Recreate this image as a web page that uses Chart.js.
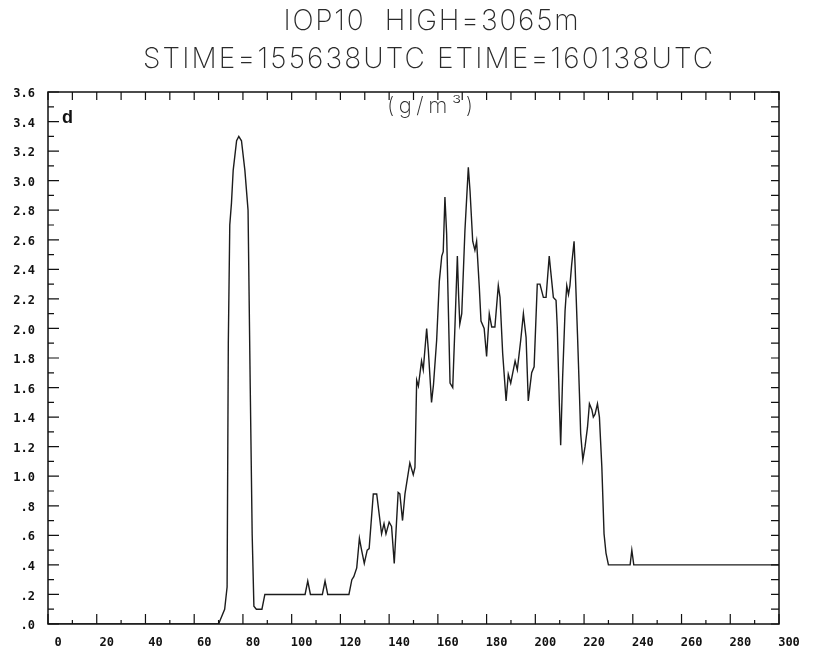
<!DOCTYPE html>
<html>
<head>
<meta charset="utf-8">
<script src="https://cdn.jsdelivr.net/npm/chart.js@4.4.1/dist/chart.umd.min.js"></script>
<style>
  html, body { margin: 0; padding: 0; background: #fff; }
</style>
</head>
<body>
<canvas id="lwcChart" width="817" height="655"></canvas>
<script>
// Header and panel text
const titleLines = ["IOP10  HIGH=3065m", "STIME=155638UTC ETIME=160138UTC"];
const unitLabel = "(g/m³)";
const panelLabel = "d";

// Liquid water content along the flight leg
const distance = [
    0, 70, 72.5, 73.5, 74, 74.6, 75.3, 76, 77.4, 78.3, 79.4, 80.8, 82.1, 83, 83.8, 84.5, 85.5, 87.8, 89,
    105.5, 106.6, 107.7, 112.6, 113.7, 114.8, 123.5, 124.7, 125.5, 126.7, 127.8, 128.7, 129.8, 131, 131.8,
    133.5, 134.9, 136.9, 137.9, 138.7, 140, 141, 142.1, 143.7, 144.4, 145.5, 146.5, 148.5, 149.9, 150.6,
    151.3, 152, 153.3, 154, 155.4, 156.1, 157.4, 158.2, 159.5, 160.6, 161.6, 162.2, 162.9, 163.6, 165,
    166.1, 167, 168, 168.5, 169, 169.8, 171.1, 172.5, 173.2, 174.3, 175.2, 175.9, 177, 177.7, 179, 180,
    181.1, 182.1, 183.4, 184.8, 185.5, 186.6, 188, 188.9, 189.9, 191.7, 192.6, 194, 195.1, 196.2, 197.1,
    198.5, 199.5, 200.8, 201.9, 203.3, 204.4, 205.7, 206.3, 207.4, 208.5, 209, 209.9, 210.4, 211.2, 212.2,
    212.9, 213.6, 214.2, 214.9, 215.9, 216.3, 217.3, 218.1, 218.6, 219.5, 220.4, 221.4, 222.2, 223.2,
    223.8, 224.5, 225.5, 226.3, 227.3, 228.2, 229, 230, 238.9, 239.6, 240.4, 300
];
const lwc = [
    0, 0, 0.1, 0.25, 1.9, 2.7, 2.85, 3.07, 3.27, 3.30, 3.27, 3.07, 2.80, 1.6, 0.6, 0.12, 0.1, 0.1, 0.2,
    0.2, 0.29, 0.2, 0.2, 0.29, 0.2, 0.2, 0.30, 0.32, 0.38, 0.58, 0.5, 0.41, 0.5, 0.51,
    0.88, 0.88, 0.61, 0.68, 0.61, 0.69, 0.66, 0.41, 0.89, 0.88, 0.70, 0.88, 1.09, 1.01, 1.06,
    1.65, 1.61, 1.78, 1.72, 2.0, 1.85, 1.50, 1.62, 1.92, 2.32, 2.49, 2.52, 2.89, 2.64, 1.63,
    1.60, 2.01, 2.49, 2.23, 2.03, 2.10, 2.66, 3.09, 2.93, 2.59, 2.53, 2.59, 2.28, 2.05, 2.0, 1.81,
    2.10, 2.01, 2.01, 2.29, 2.21, 1.83, 1.51, 1.69, 1.63, 1.78, 1.72, 1.92, 2.10, 1.94, 1.51,
    1.70, 1.74, 2.30, 2.30, 2.21, 2.21, 2.49, 2.39, 2.21, 2.19, 2.01, 1.47, 1.21, 1.67, 2.12,
    2.29, 2.23, 2.29, 2.43, 2.59, 2.43, 1.96, 1.56, 1.29, 1.11, 1.20, 1.33, 1.49, 1.45,
    1.40, 1.42, 1.49, 1.40, 1.06, 0.61, 0.48, 0.40, 0.40, 0.50, 0.40, 0.40
];

// Axis ticks
const xTickValues = [0, 20, 40, 60, 80, 100, 120, 140, 160, 180, 200, 220, 240, 260, 280, 300];
const yTickValues = [0, 0.2, 0.4, 0.6, 0.8, 1.0, 1.2, 1.4, 1.6, 1.8, 2.0, 2.2, 2.4, 2.6, 2.8, 3.0, 3.2, 3.4, 3.6];
const yTickLabels = [".0", ".2", ".4", ".6", ".8", "1.0", "1.2", "1.4", "1.6", "1.8", "2.0", "2.2", "2.4", "2.6", "2.8", "3.0", "3.2", "3.4", "3.6"];
const xMinorStep = 10;
const yMinorStep = 0.1;

const tickFont = { family: "'DejaVu Sans Mono', monospace", weight: 'bold', size: 12 };
const headFont = "200 28px Inter, 'DejaVu Sans', sans-serif";

// draw text stretched to a given width (old plotter lettering is widely spaced)
function spacedText(ctx, text, cx, cy, width) {
    ctx.letterSpacing = '0px';
    const w = ctx.measureText(text).width;
    const gap = (width - w) / (text.length - 1);
    ctx.letterSpacing = gap + 'px';
    ctx.fillText(text, cx - width / 2, cy);
    ctx.letterSpacing = '0px';
}

// frame with inward ticks on all four sides, plus header text
const framePlugin = {
    id: 'frame',
    afterDraw(chart) {
        const { ctx, chartArea: a, scales: { x, y } } = chart;
        ctx.save();
        ctx.strokeStyle = '#111';
        ctx.lineWidth = 1.5;
        ctx.strokeRect(a.left, a.top, a.right - a.left, a.bottom - a.top);

        ctx.lineWidth = 1.2;
        ctx.beginPath();
        for (let v = x.min; v <= x.max; v += xMinorStep) {
            const px = x.getPixelForValue(v);
            const major = v % 20 === 0;
            ctx.moveTo(px, a.bottom);
            ctx.lineTo(px, a.bottom - (major ? 10 : 4));
            ctx.moveTo(px, a.top);
            ctx.lineTo(px, a.top + 8);
        }
        const nY = Math.round((y.max - y.min) / yMinorStep);
        for (let i = 0; i <= nY; i++) {
            const py = y.getPixelForValue(i * yMinorStep);
            ctx.moveTo(a.left, py);
            ctx.lineTo(a.left + (i % 2 === 0 ? 11 : 6), py);
            ctx.moveTo(a.right, py);
            ctx.lineTo(a.right - 8, py);
        }
        ctx.stroke();

        ctx.fillStyle = '#2a2a2a';
        ctx.font = headFont;
        ctx.textBaseline = 'middle';
        ctx.textAlign = 'left';
        spacedText(ctx, titleLines[0], 431, 22, 295);
        spacedText(ctx, titleLines[1], 428, 60, 570);

        ctx.font = "200 22px Inter, 'DejaVu Sans', sans-serif";
        spacedText(ctx, unitLabel, 430, 106, 86);

        ctx.fillStyle = '#111';
        ctx.font = "bold 18px 'Liberation Sans', Arial, sans-serif";
        ctx.fillText(panelLabel, 62, 118);
        ctx.restore();
    }
};

const ctx = document.getElementById('lwcChart').getContext('2d');
const lwcChart = new Chart(ctx, {
    type: 'line',
    data: {
        datasets: [{
            data: distance.map((d, i) => ({ x: d, y: lwc[i] })),
            borderColor: '#1c1c1c',
            borderWidth: 1.4,
            pointRadius: 0,
            tension: 0,
            fill: false
        }]
    },
    options: {
        responsive: false,
        animation: false,
        layout: { padding: { top: 92, right: 38, left: 0, bottom: 0 } },
        plugins: {
            legend: { display: false },
            tooltip: { enabled: false }
        },
        scales: {
            x: {
                type: 'linear',
                min: 0,
                max: 300,
                grid: { display: false, drawTicks: false },
                border: { display: false },
                afterBuildTicks: scale => { scale.ticks = xTickValues.map(v => ({ value: v })); },
                afterFit: scale => { scale.height = 31; },
                ticks: {
                    font: tickFont,
                    color: '#111',
                    padding: 12,
                    labelOffset: 10,
                    maxRotation: 0,
                    autoSkip: false,
                    callback: v => String(v)
                }
            },
            y: {
                type: 'linear',
                min: 0,
                max: 3.6,
                grid: { display: false, drawTicks: false },
                border: { display: false },
                afterBuildTicks: scale => { scale.ticks = yTickValues.map(v => ({ value: v })); },
                afterFit: scale => { scale.width = 48; },
                ticks: {
                    font: tickFont,
                    color: '#111',
                    padding: 13,
                    labelOffset: 2,
                    autoSkip: false,
                    callback: v => yTickLabels[yTickValues.findIndex(t => Math.abs(t - v) < 1e-6)]
                }
            }
        }
    },
    plugins: [framePlugin]
});
</script>
</body>
</html>
